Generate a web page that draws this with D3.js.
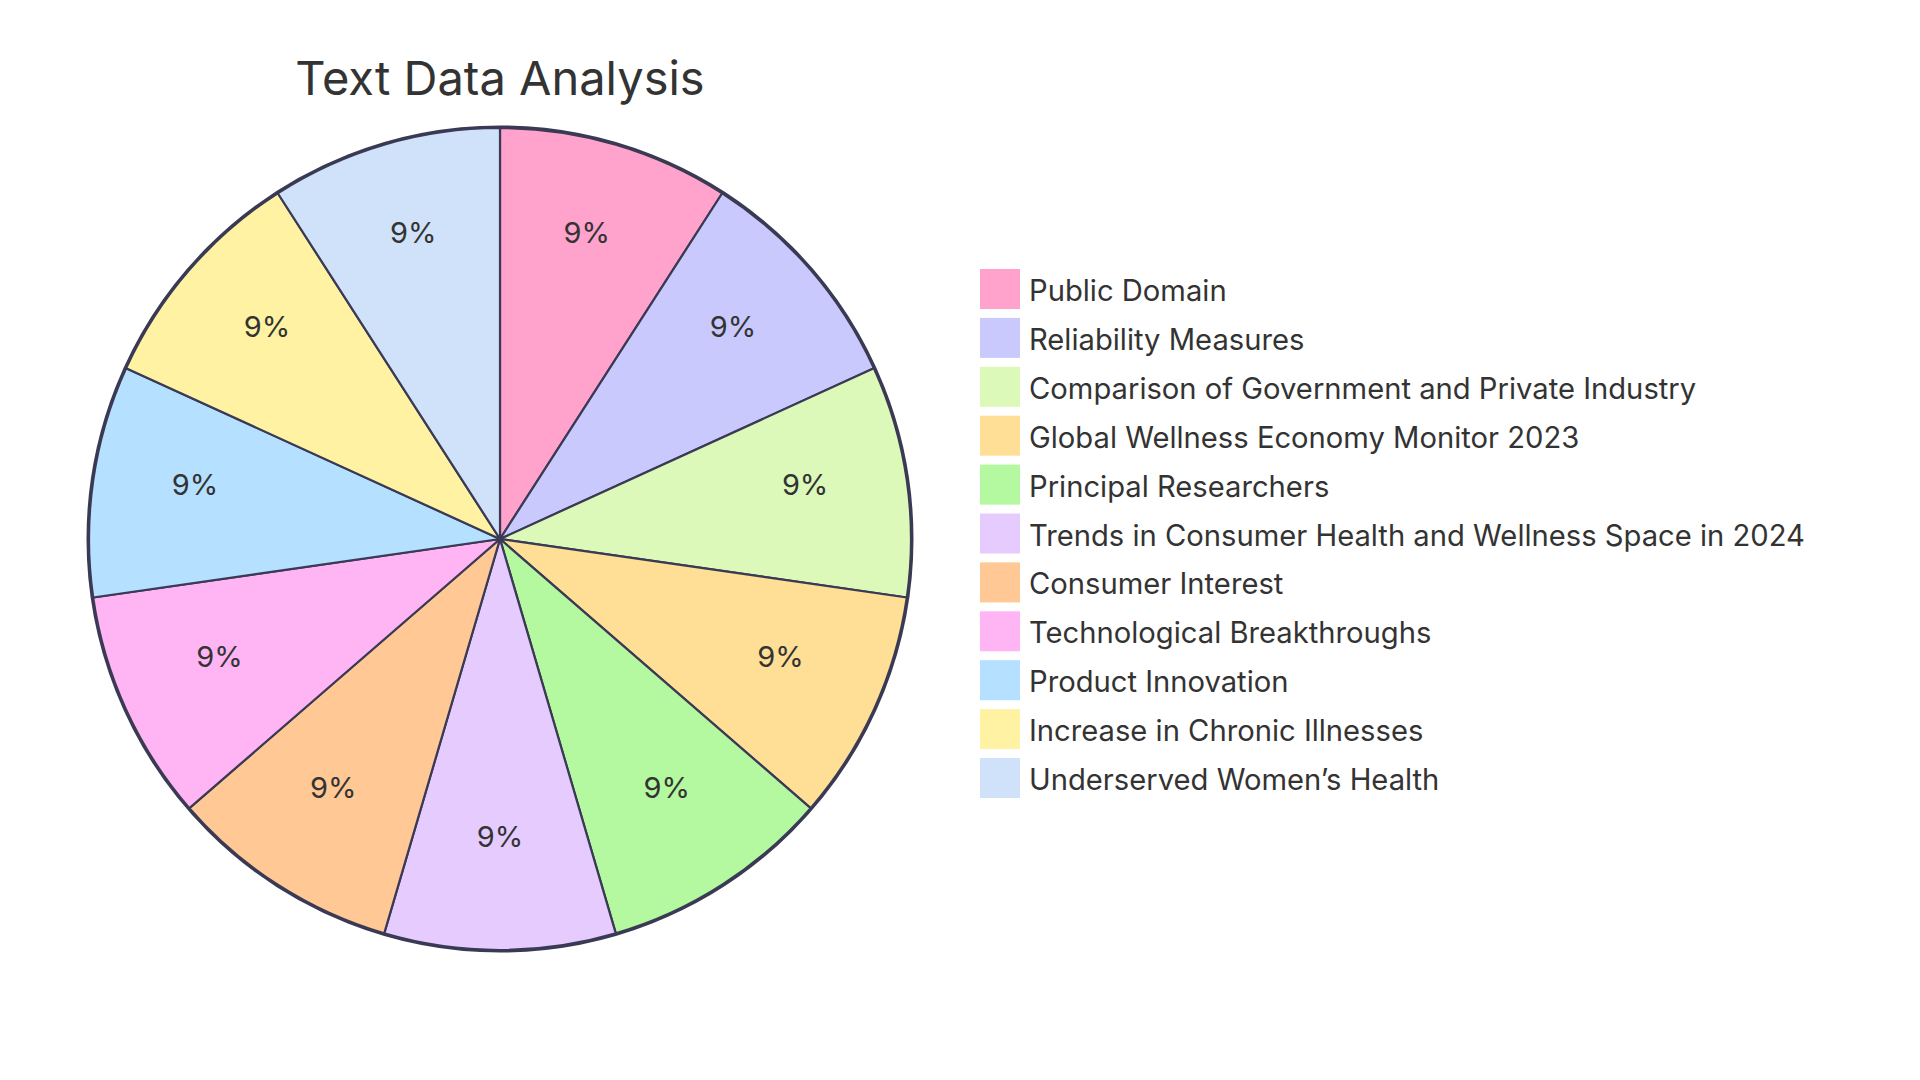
<!DOCTYPE html>
<html><head><meta charset="utf-8">
<script src="https://cdn.jsdelivr.net/npm/d3@7"></script>
<style>
html,body{margin:0;padding:0;background:#fff;}
svg{display:block;}
text{font-family:Inter,"Open Sans",sans-serif;fill:#333;}
</style></head>
<body>
<svg id="chart" width="1920" height="1080"></svg>
<script>
const title = "Text Data Analysis";
const categories = ["Public Domain","Reliability Measures","Comparison of Government and Private Industry","Global Wellness Economy Monitor 2023","Principal Researchers","Trends in Consumer Health and Wellness Space in 2024","Consumer Interest","Technological Breakthroughs","Product Innovation","Increase in Chronic Illnesses","Underserved Women’s Health"];
const values = [1,1,1,1,1,1,1,1,1,1,1];
const colors = ["#FFA2CC","#C9C9FD","#DCF9BA","#FFDE95","#B4F8A0","#E6CBFE","#FFC894","#FFB5F3","#B5E0FF","#FFF3A3","#CFE2FA"];

const svg = d3.select("#chart");
const cx = 500, cy = 539, R = 411;
const stroke = "#3a3a55";

svg.append("text").attr("x", cx).attr("y", 95).attr("text-anchor","middle")
  .style("font-size","47px").style("font-weight","400").text(title);

const data = categories.map((c,i)=>({label:c, value:values[i]}));
const total = d3.sum(values);
const pie = d3.pie().value(d=>d.value).sort(null);
const arcs = pie(data);
const arc = d3.arc().innerRadius(0).outerRadius(R);
const labelArc = d3.arc().innerRadius(R*0.75).outerRadius(R*0.75);
const color = d3.scaleOrdinal().domain(categories).range(colors);

const g = svg.append("g").attr("transform",`translate(${cx},${cy})`);
g.append("circle").attr("r", R+1).attr("fill","none").attr("stroke",stroke).attr("stroke-width",3);
g.selectAll("path.slice").data(arcs).enter().append("path")
  .attr("d", arc).attr("fill", d=>color(d.data.label))
  .attr("stroke", stroke).attr("stroke-width", 2.2).attr("stroke-linejoin","round");
g.selectAll("text.lbl").data(arcs).enter().append("text")
  .attr("transform", d=>`translate(${labelArc.centroid(d)})`)
  .attr("text-anchor","middle").style("font-size","29px")
  .text(d=>(d.data.value/total*100).toFixed(0)+"%");

const legX = 980, legY = 269, rowH = 48.9, box = 40;
const leg = svg.append("g");
const items = leg.selectAll("g").data(categories).enter().append("g")
  .attr("transform",(d,i)=>`translate(${legX},${legY + i*rowH})`);
items.append("rect").attr("width",box).attr("height",box).attr("fill",d=>color(d));
items.append("text").attr("x", box+9).attr("y", 32).style("font-size","29.2px").text(d=>d);
</script>
</body></html>
